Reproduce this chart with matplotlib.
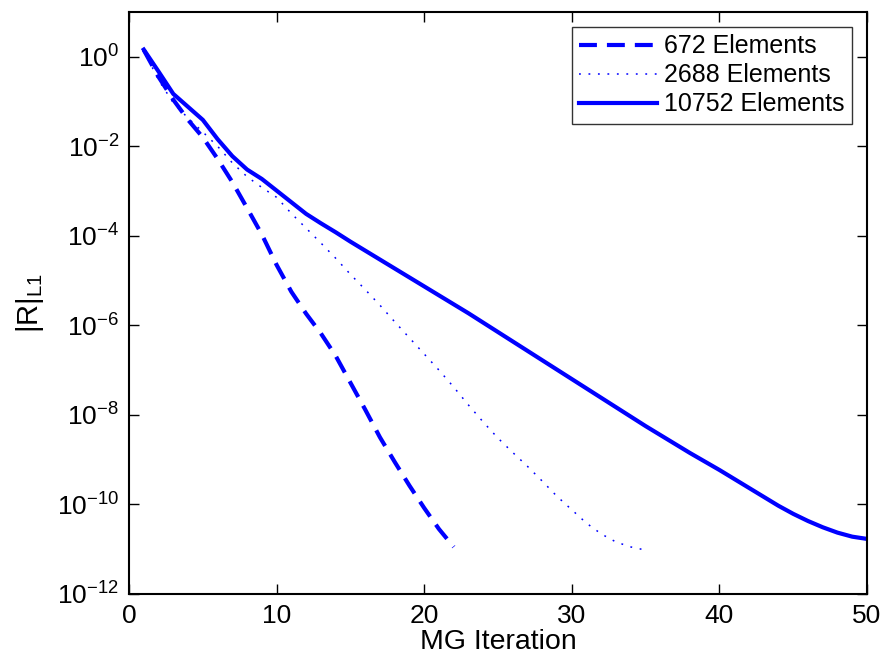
import numpy as np
import matplotlib
matplotlib.use("Agg")
import matplotlib.pyplot as plt

plt.rcParams['font.family'] = ['Liberation Sans', 'DejaVu Sans']
plt.rcParams['mathtext.default'] = 'regular'

# log10 of |R|_L1 per MG iteration
it_672 = list(range(1, 23))
log_672 = [0.15, -0.45, -0.96, -1.41, -1.80, -2.28, -2.80, -3.38, -3.97, -4.65,
           -5.25, -5.74, -6.18, -6.68, -7.28, -7.88, -8.50, -9.05, -9.58, -10.08,
           -10.55, -10.95]

it_2688 = list(range(1, 36))
log_2688 = [0.14, -0.52, -1.03, -1.37, -1.68, -2.00, -2.37, -2.68, -2.92, -3.14,
            -3.50, -3.83, -4.16, -4.50, -4.86, -5.20, -5.55, -5.92, -6.28, -6.64,
            -7.00, -7.38, -7.78, -8.16, -8.52, -8.84, -9.15, -9.48, -9.82, -10.12,
            -10.42, -10.66, -10.84, -10.95, -11.02]

it_10752 = list(range(1, 51))
log_10752 = [0.16, -0.33, -0.83, -1.12, -1.41, -1.84, -2.22, -2.52, -2.73, -2.99,
             -3.25, -3.51, -3.72, -3.92, -4.13, -4.33, -4.53, -4.73, -4.93, -5.13,
             -5.33, -5.53, -5.73, -5.94, -6.15, -6.36, -6.57, -6.78, -6.99, -7.20,
             -7.41, -7.62, -7.83, -8.04, -8.25, -8.45, -8.65, -8.85, -9.04, -9.23,
             -9.43, -9.63, -9.83, -10.03, -10.21, -10.37, -10.51, -10.63, -10.72, -10.77]

labels = ["672 Elements", "2688 Elements", "10752 Elements"]

fig = plt.figure(figsize=(8.83, 6.58), dpi=100)
ax = fig.add_axes([0.1461, 0.0973, 0.8358, 0.8845])

blue = (0, 0, 1)
ax.semilogy(it_672, 10.0 ** np.array(log_672), color=blue, lw=3,
            dashes=(4.3, 2.4), label=labels[0])
ax.semilogy(it_2688, 10.0 ** np.array(log_2688), color=blue, lw=1.1,
            dashes=(1.2, 5.0), label=labels[1])
ax.semilogy(it_10752, 10.0 ** np.array(log_10752), color=blue, lw=3,
            label=labels[2])

ax.set_xlim(0, 50)
ax.set_ylim(1e-12, 1e1)
ax.set_xticks([0, 10, 20, 30, 40, 50])
ax.set_yticks([10.0 ** k for k in range(-12, 1, 2)])
ax.yaxis.set_minor_locator(matplotlib.ticker.NullLocator())
ax.tick_params(which='both', direction='in', top=True, right=True,
               length=7, width=1, labelsize=19, pad=7)

for s in ax.spines.values():
    s.set_linewidth(1.5)

ax.set_xlabel("MG Iteration", fontsize=20.5, labelpad=1)
ax.set_ylabel("$|R|_{L1}$", fontsize=21, labelpad=8)

leg = ax.legend(loc='upper right', fontsize=18, frameon=True, fancybox=False,
                handlelength=3.1, handletextpad=0.3, borderpad=0.3,
                labelspacing=0.2, borderaxespad=0.6)
leg.get_frame().set_edgecolor('black')
leg.get_frame().set_linewidth(1.0)

fig.savefig("out.png", dpi=100)
